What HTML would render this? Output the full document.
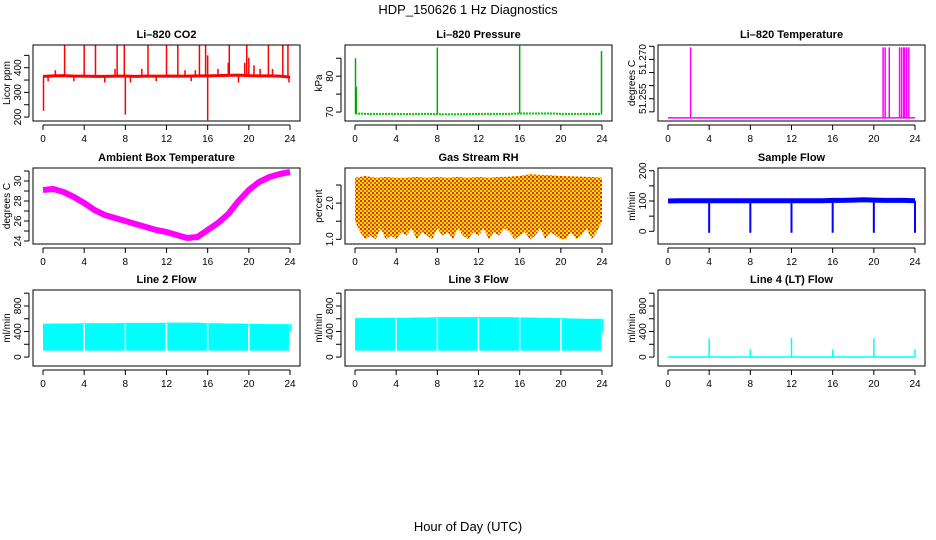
<!DOCTYPE html>
<html><head><meta charset="utf-8"><style>
body{margin:0;background:#fff}
svg{display:block;font-family:"Liberation Sans",sans-serif}
.t{font-size:11px;font-weight:bold;text-anchor:middle}
.tk{font-size:10px}
</style></head><body>
<svg id="s" width="936" height="540" viewBox="0 0 936 540">
<defs>
<pattern id="rhp" width="4" height="4" patternUnits="userSpaceOnUse">
<rect width="4" height="4" fill="#ffe000"/><rect x="0" y="0" width="2" height="2" fill="#e03010"/><rect x="2" y="2" width="2" height="2" fill="#f06000"/>
</pattern>
</defs>
<text x="468" y="14" font-size="13" text-anchor="middle">HDP_150626  1 Hz Diagnostics</text>
<text x="468" y="531" font-size="13" text-anchor="middle">Hour of Day (UTC)</text>
</svg>
<script>
const hourTicks=[0,4,8,12,16,20,24];
// CO2
const co2Base=[365,367,368,366,366,365,365,366,366,365,366,366,366,366,366,367,367,368,369,370,368,367,367,366,362];
const co2SpikeHours=[2.1,4.0,5.1,7.2,7.9,10.2,12.0,13.1,15.2,15.8,18.1,19.8,20.0,21.9,23.3,23.8,16.0,18.0,19.6,7.0,9.6,13.8,14.8,17.0,20.5,21.1,22.3,1.2,0.05,8.0,16.0,0.5,3.0,6.0,8.5,11.0,14.4,19.0,23.9];
const co2SpikeVals=[490,490,490,490,490,490,490,490,490,490,490,490,440,490,490,490,450,420,420,395,395,390,390,395,410,395,395,390,225,210,187,345,345,340,340,345,345,340,340];
// Pressure
const presBase=[69.6,69.5,69.5,69.5,69.5,69.4,69.5,69.5,69.4,69.4,69.4,69.4,69.5,69.5,69.5,69.5,69.6,69.6,69.6,69.6,69.5,69.5,69.5,69.5,69.5];
const presSpikeHours=[0.05,0.12,8.0,16.0,23.95];
const presSpikeVals=[85,77,88,88.5,87];
// Li-820 temperature
const ltBase=51.2477;
const ltSpikeHours=[2.2,20.9,21.1,21.5,22.5,22.7,22.9,23.0,23.2,23.4];
const ltSpikeVals=[51.2746,51.2746,51.2746,51.2746,51.2746,51.2746,51.2746,51.2746,51.2746,51.2746];
// Ambient temperature
const ambVals=[29.1,29.2,28.9,28.4,27.8,27.1,26.6,26.3,26.0,25.7,25.4,25.1,24.9,24.6,24.3,24.4,25.1,25.8,26.7,28.0,29.1,29.9,30.4,30.7,30.9];
// RH
const rhTop=[2.7,2.75,2.7,2.72,2.7,2.7,2.72,2.7,2.72,2.7,2.72,2.7,2.72,2.7,2.72,2.73,2.75,2.8,2.78,2.77,2.75,2.74,2.73,2.72,2.7];
const rhLow=[1.5,1.2,1.0,1.1,1.0,1.3,1.0,1.1,1.0,1.2,1.1,1.3,1.0,1.2,1.1,1.0,1.3,1.1,1.2,1.0,1.3,1.1,1.0,1.2,1.1,1.3,1.0,1.2,1.1,1.3,1.2,1.0,1.1,1.2,1.0,1.1,1.3,1.0,1.2,1.1,1.0,1.0,1.2,1.0,1.1,1.3,1.0,1.2,1.5];
// Sample flow
const sfBase=[100,101,101,101,101,101,101,101,101,101,101,101,101,101,101,101,102,102,103,104,103,102,102,102,101];
const sfDipHours=[4,8,12,16,20,24];
const sfDipVals=[-5,-5,-5,-5,-5,-5];
// Line flows
const l2Top=[520,525,525,525,530,530,530,530,535,535,535,535,540,540,540,540,530,530,525,525,520,520,515,515,400];
const l2Low=[100,100,100,100,100,100,100,100,100,100,100,100,100,100,100,100,100,100,100,100,100,100,100,100,100];
const l3Top=[610,612,612,612,615,615,620,620,625,625,625,625,625,625,625,625,620,620,615,612,610,605,600,600,380];
const l3Low=[100,100,100,100,100,100,100,100,100,100,100,100,100,100,100,100,100,100,100,100,100,100,100,100,100];
const flowGapHours=[4,8,12,16,20];
const l4Base=[0,0,0,0,0,0,0,0,0,0,0,0,0,0,0,0,0,0,0,0,0,0,0,0,0];
const l4SpikeHours=[4,8,12,16,20,24];
const l4SpikeVals=[290,120,300,120,290,120];

const NS="http://www.w3.org/2000/svg";
const svg=document.getElementById('s');
function el(tag,attrs,parent){const e=document.createElementNS(NS,tag);for(const k in attrs)e.setAttribute(k,attrs[k]);(parent||svg).appendChild(e);return e;}
const colX=[33,345,658],rowY=[45,168,290],W=267,H=76;
function makePanel(c,r,name,title,ylab,ymin,ymax,ticks,labels){
  const bx=colX[c],by=rowY[r];
  const g=el('g',{});
  
  
  const x=h=>bx+10+h*(247/24);
  const y=v=>by+H*(ymax-v)/(ymax-ymin);
  const clipId='clip'+c+r;
  const cp=el('clipPath',{id:clipId},g);el('rect',{x:bx,y:by,width:W,height:H},cp);
  const plot=el('g',{'clip-path':'url(#'+clipId+')'},g);
  
  
  const box=el('rect',{x:bx,y:by,width:W,height:H,fill:'none',stroke:'#000','stroke-width':1},g);
  
  
  const t=el('text',{x:bx+W/2,y:by-7,class:'t'},g);t.textContent=title;
  
  
  const xa=el('g',{},g);
  
  
  el('line',{x1:x(0),x2:x(24),y1:by+H+4,y2:by+H+4,stroke:'#000'},xa);
  hourTicks.forEach(h=>{el('line',{x1:x(h),x2:x(h),y1:by+H+4,y2:by+H+9,stroke:'#000'},xa);
    const tt=el('text',{x:x(h),y:by+H+21,'text-anchor':'middle',class:'tk'},xa);tt.textContent=h;});
  const ya=el('g',{},g);
  
  
  el('line',{x1:bx-4,x2:bx-4,y1:y(ticks[0]),y2:y(ticks[ticks.length-1]),stroke:'#000'},ya);
  ticks.forEach(v=>el('line',{x1:bx-4,x2:bx-9,y1:y(v),y2:y(v),stroke:'#000'},ya));
  labels.forEach(v=>{const tx=bx-12;const tt=el('text',{x:tx,y:y(v),'text-anchor':'middle',class:'tk',transform:'rotate(-90 '+tx+' '+y(v)+')'},ya);tt.textContent=v;});
  const yl=el('text',{x:bx-23,y:by+H/2,'text-anchor':'middle',class:'tk',transform:'rotate(-90 '+(bx-23)+' '+(by+H/2)+')'},g);yl.textContent=ylab;
  
  
  return {x,y,plot};
}
function line(p,vals,color,w){const pts=vals.map((v,i)=>p.x(i)+','+p.y(v)).join(' ');const e=el('polyline',{points:pts,fill:'none',stroke:color,'stroke-width':w},p.plot);return e;}
function spikes(p,hrs,vals,base,color,w,name){hrs.forEach((h,i)=>{const b=base[Math.round(h)]!==undefined?base[Math.round(h)]:base;const e=el('line',{x1:p.x(h),x2:p.x(h),y1:p.y(b),y2:p.y(vals[i]),stroke:color,'stroke-width':w},p.plot);
  
  });}

let p=makePanel(0,0,'co2','Li\u2013820 CO2','Licor ppm',184,492,[200,250,300,350,400,450],['200','300','400']);
let e=line(p,co2Base,'#f00',3);
spikes(p,co2SpikeHours,co2SpikeVals,co2Base,'#f00',1.5,'co2-spike');

p=makePanel(1,0,'pressure','Li\u2013820 Pressure','kPa',67.5,88.7,[70,75,80,85],['70','80']);
e=line(p,presBase,'#0c0',2);e.setAttribute('stroke-dasharray','2 1');
spikes(p,presSpikeHours,presSpikeVals,presBase,'#0a0',1.5,'pressure-spike');

p=makePanel(2,0,'li820-temp','Li\u2013820 Temperature','degrees C',51.2465,51.2755,[51.25,51.255,51.26,51.265,51.27,51.275],['51.255','51.270']);
e=el('line',{x1:p.x(0),x2:p.x(24),y1:p.y(ltBase),y2:p.y(ltBase),stroke:'#f0f','stroke-width':1.5},p.plot);

spikes(p,ltSpikeHours,ltSpikeVals,ltBase,'#f0f',1.5,'li820-temp-spike');

p=makePanel(0,1,'ambient','Ambient Box Temperature','degrees C',23.7,31.3,[24,25,26,27,28,29,30,31],['24','26','28','30']);
e=line(p,ambVals,'#f0f',6);e.setAttribute('stroke-linejoin','round');

p=makePanel(1,1,'rh','Gas Stream RH','percent',0.87,2.97,[1.0,1.5,2.0,2.5],['1.0','2.0']);
{let pts=rhTop.map((v,i)=>p.x(i)+','+p.y(v));for(let i=rhLow.length-1;i>=0;i--)pts.push(p.x(i/2)+','+p.y(rhLow[i]));
e=el('polygon',{points:pts.join(' '),fill:'url(#rhp)'},p.plot);}

p=makePanel(2,1,'sample-flow','Sample Flow','ml/min',-42,209,[0,50,100,150,200],['0','100','200']);
e=line(p,sfBase,'#00f',5);
spikes(p,sfDipHours,sfDipVals,sfBase,'#00f',2,'sample-flow-dip');

function band(c,name,title,top,low){
  const q=makePanel(c,2,name,title,'ml/min',-140,1050,[0,200,400,600,800,1000],['0','400','800']);
  let pts=top.slice(0,24).map((v,i)=>q.x(i)+','+q.y(v));pts.push(q.x(23.9)+','+q.y(top[23]));
  pts.push(q.x(23.9)+','+q.y(low[24]));for(let i=23;i>=0;i--)pts.push(q.x(i)+','+q.y(low[i]));
  let b=el('polygon',{points:pts.join(' '),fill:'#0ff'},q.plot);
  let s=el('line',{x1:q.x(24.05),x2:q.x(24.05),y1:q.y(top[24]),y2:q.y(top[23]),stroke:'#0ff','stroke-width':2},q.plot);
  
  flowGapHours.forEach(h=>{const g=el('line',{x1:q.x(h),x2:q.x(h),y1:q.y(top[h]-15),y2:q.y(low[h]),stroke:'#fff','stroke-width':1.5},q.plot);
    });
}
band(0,'line2-flow','Line 2 Flow',l2Top,l2Low);
band(1,'line3-flow','Line 3 Flow',l3Top,l3Low);

p=makePanel(2,2,'line4-flow','Line 4 (LT) Flow','ml/min',-140,1050,[0,200,400,600,800,1000],['0','400','800']);
e=line(p,l4Base,'#0ff',1.5);
spikes(p,l4SpikeHours,l4SpikeVals,l4Base,'#0ff',1.5,'line4-flow-spike');
</script>
</body></html>
